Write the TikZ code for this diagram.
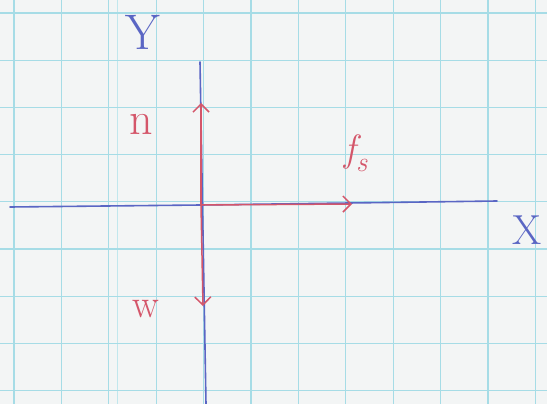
\documentclass[tikz,border=0pt]{standalone}
\usetikzlibrary{arrows.meta}
\definecolor{paper}{HTML}{F3F5F5}
\definecolor{gridc}{HTML}{A6DCE6}
\definecolor{bluepen}{HTML}{5A66C4}
\definecolor{redpen}{HTML}{D4566A}
\tikzset{
  gridline/.style={gridc, line width=1.1pt},
  axisline/.style={bluepen, line width=1.6pt, line cap=round},
  forcearrow/.style={redpen, line width=1.5pt, line cap=round, -{Straight Barb[length=8pt,width=16pt,line width=1.5pt]}},
  axislabel/.style={bluepen, inner sep=0pt},
  forcelabel/.style={redpen, inner sep=0pt}
}
\begin{document}
\begin{tikzpicture}[x=1pt,y=-1pt]
  \fill[paper] (0,0) rectangle (547,404);
  \useasboundingbox (0,0) rectangle (547,404);
  % grid
  \foreach \i in {0,...,11} {
    \draw[gridline] ({14+47.4*\i},0) -- ({14+47.4*\i},404);
  }
  \draw[gridc!70, line width=0.6pt] (117,0) -- (117,404);
  \foreach \j in {0,...,8} {
    \draw[gridline] (0,{13+47.2*\j}) -- (547,{13+47.2*\j});
  }
  % axes
  \coordinate (xl) at (10,207);
  \coordinate (xr) at (497,201);
  \coordinate (yt) at (200,62);
  \coordinate (yb) at (206,404);
  \coordinate (O) at (201,205);
  \draw[axisline] (xl) -- (O) -- (xr);
  \draw[axisline] (yt) -- (yb);
  % force arrow ends
  \coordinate (nend) at (201,103);
  \coordinate (wend) at (203,306);
  \coordinate (fend) at (352,204);
  \draw[forcearrow] (O) -- (nend);
  \draw[forcearrow] (O) -- (wend);
  \draw[forcearrow] (O) -- (fend);
  % labels
  \node[axislabel, font=\fontsize{50}{50}\selectfont] (ylab) at (143,32) {Y};
  \node[axislabel, font=\fontsize{42}{42}\selectfont] (xlab) at (527,230) {X};
  \node[forcelabel, font=\fontsize{46}{46}\selectfont] (nlab) at (141,124) {n};
  \node[forcelabel, font=\fontsize{40}{40}\selectfont] (wlab) at (146,309) {w};
  \node[forcelabel, font=\fontsize{38}{38}\selectfont\itshape] (flab) at (356,153) {f\raisebox{-10pt}{\fontsize{28}{28}\selectfont s}};
\end{tikzpicture}
\end{document}
